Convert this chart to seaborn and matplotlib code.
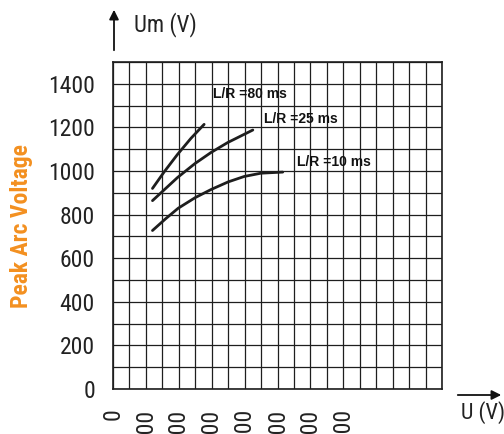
import pandas as pd
import seaborn as sns
import matplotlib.pyplot as plt
from matplotlib import font_manager

# curve values (U in V, Um in V)
lr80_u = [120, 156, 196, 237, 277]
lr80_um = [920, 997, 1076, 1150, 1214]
lr25_u = [120, 196, 249, 298, 348, 425]
lr25_um = [864, 970, 1034, 1085, 1130, 1188]
lr10_u = [120, 160, 198, 250, 298, 350, 399, 450, 516]
lr10_um = [727, 781, 829, 878, 915, 950, 975, 990, 995]

curve_names = ['L/R =80 ms', 'L/R =25 ms', 'L/R =10 ms']
label_pos = [(305, 1352), (460, 1237), (558, 1043)]

x_ticks = [0, 100, 200, 300, 400, 500, 600, 700, 800, 900, 1000]
x_labels = ['0', '100', '200', '300', '400', '500', '600', '700', '', '', '']
y_ticks = [0, 200, 400, 600, 800, 1000, 1200, 1400]

df = pd.concat([
    pd.DataFrame({'U': lr80_u, 'Um': lr80_um, 'curve': curve_names[0]}),
    pd.DataFrame({'U': lr25_u, 'Um': lr25_um, 'curve': curve_names[1]}),
    pd.DataFrame({'U': lr10_u, 'Um': lr10_um, 'curve': curve_names[2]}),
])


def pick(cands):
    names = {f.name for f in font_manager.fontManager.ttflist}
    for c in cands:
        if c in names:
            return c
    return 'Liberation Sans'


sns.set_theme(style='white')
narrow = pick(['Liberation Sans Narrow', 'Arial Narrow', 'Roboto Condensed',
               'Archivo Narrow', 'Barlow Condensed'])
plt.rcParams['font.family'] = [narrow, 'DejaVu Sans']

fig = plt.figure(figsize=(5.04, 4.34), dpi=100)
ax = fig.add_axes([113 / 504, 45 / 434, 329 / 504, 327 / 434])

sns.lineplot(data=df, x='U', y='Um', units='curve', estimator=None,
             color='#1e1e1e', linewidth=2.0, sort=False, ax=ax)

ax.set_xlim(0, 1000)
ax.set_ylim(0, 1500)
ax.set_xticks(x_ticks)
ax.set_xticklabels(x_labels, rotation=90, va='top')
ax.set_xticks(range(0, 1001, 50), minor=True)
ax.set_yticks(y_ticks)
ax.set_yticks(range(0, 1501, 100), minor=True)
ax.grid(True, which='both', color='#1e1e1e', linewidth=0.9)
ax.tick_params(which='both', length=0)
ax.tick_params(axis='y', pad=13, labelsize=17, labelcolor='#222222')
ax.tick_params(axis='x', pad=14, labelsize=17, labelcolor='#222222')
for s in ax.spines.values():
    s.set_color('#1e1e1e')
    s.set_linewidth(1.2)
ax.set_xlabel('')
ax.set_ylabel('')

for name, (lx, ly) in zip(curve_names, label_pos):
    ax.text(lx, ly, name, fontsize=10, fontweight='bold', va='center',
            family=['Liberation Sans', 'DejaVu Sans'], color='#111111')

# axis arrows and titles
ax.annotate('', xy=(114, 427), xytext=(114, 381), xycoords='figure pixels',
            textcoords='figure pixels',
            arrowprops=dict(arrowstyle='-|>', color='#111111', lw=1.3,
                            mutation_scale=14))
ax.annotate('', xy=(504, 39), xytext=(455, 39), xycoords='figure pixels',
            textcoords='figure pixels',
            arrowprops=dict(arrowstyle='-|>', color='#111111', lw=1.3,
                            mutation_scale=14))
fig.text(134 / 504, 1 - 25 / 434, 'Um (V)', fontsize=16.5, color='#222222',
         va='center', ha='left')
fig.text(461 / 504, 1 - 413 / 434, 'U (V)', fontsize=16, color='#222222',
         va='center', ha='left')
fig.text(22 / 504, 1 - 226 / 434, 'Peak Arc Voltage', fontsize=17,
         fontweight='bold', color='#f39020', rotation=90,
         va='center', ha='center')

fig.savefig('out.png', dpi=100)
